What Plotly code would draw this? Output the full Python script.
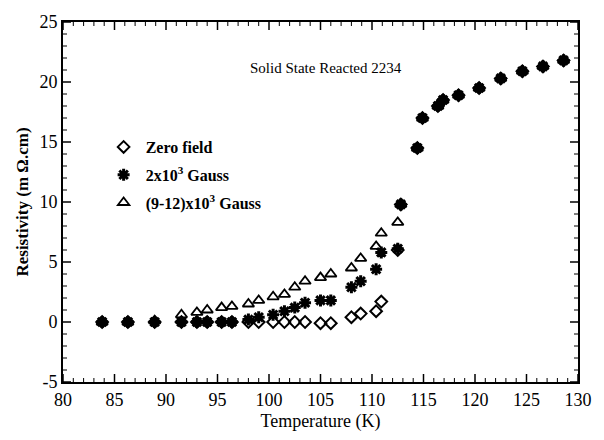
import plotly.graph_objects as go

temperature = [83.8, 86.3, 88.9, 91.5, 93.0, 94.0, 95.4, 96.4, 98.0, 99.0, 100.4, 101.5,
               102.5, 103.5, 105.0, 106.0, 108.0, 108.9, 110.4, 110.9, 112.5, 112.8,
               114.4, 114.9, 116.4, 116.9, 118.4, 120.4, 122.5, 124.6, 126.6, 128.6]

zero_field = [0, 0, 0, 0, 0, 0, 0, 0, 0, 0, 0, 0,
              0, 0, -0.1, -0.1, 0.4, 0.7, 0.9, 1.7, 6.0, 9.8,
              14.5, 17.0, 18.0, 18.5, 18.9, 19.5, 20.3, 20.9, 21.3, 21.8]

gauss_2e3 = [0, 0, 0, 0, 0, 0, 0, 0, 0.2, 0.4, 0.6, 0.9,
             1.2, 1.6, 1.8, 1.8, 2.9, 3.4, 4.4, 5.8, 6.1, 9.8,
             14.5, 17.0, 18.0, 18.5, 18.9, 19.5, 20.3, 20.9, 21.3, 21.8]

gauss_9_12e3 = [0, 0, 0.1, 0.6, 0.8, 1.0, 1.2, 1.3, 1.5, 1.8, 2.1, 2.3,
                2.9, 3.4, 3.7, 4.0, 4.5, 5.3, 6.3, 7.4, 8.3, 9.8,
                14.5, 17.0, 18.0, 18.5, 18.9, 19.5, 20.3, 20.9, 21.3, 21.8]

series_names = ["Zero field", "2x10<sup>3</sup> Gauss", "(9-12)x10<sup>3</sup> Gauss"]
x_range = [80, 130]
y_range = [-5, 25]
x_ticks = [80, 85, 90, 95, 100, 105, 110, 115, 120, 125, 130]
y_ticks = [-5, 0, 5, 10, 15, 20, 25]
x_ticktext = [str(v) for v in x_ticks]
y_ticktext = [str(v) for v in y_ticks]

serif = "Liberation Serif, Times New Roman, serif"

fig = go.Figure()
fig.add_trace(go.Scatter(
    x=temperature, y=zero_field, mode="markers", name=series_names[0],
    marker=dict(symbol="diamond-open", size=9, color="black", line=dict(width=2, color="black")),
    legendgroup="a"))
fig.add_trace(go.Scatter(
    x=temperature, y=gauss_2e3, mode="markers", name=series_names[1],
    marker=dict(symbol="asterisk-open", size=10, color="black", line=dict(width=3, color="black")),
    legendgroup="b"))
fig.add_trace(go.Scatter(
    x=temperature, y=gauss_9_12e3, mode="markers", name=series_names[2],
    marker=dict(symbol="triangle-up-open", size=10, color="black", line=dict(width=1.8, color="black")),
    legendgroup="c"))

# inward-pointing ticks on all four sides (pixel-length shapes anchored to the axes)
MAJOR_LEN, MINOR_LEN = 8, 4
shapes = []
for v in range(x_range[0], x_range[1] + 1):
    ln = MAJOR_LEN if v in x_ticks else MINOR_LEN
    w = 1.5 if v in x_ticks else 1
    for anchor, sign in ((0, 1), (1, -1)):
        shapes.append(dict(type="line", xref="x", yref="paper", ysizemode="pixel", yanchor=anchor,
                           x0=v, x1=v, y0=0, y1=sign * ln, line=dict(color="black", width=w)))
for v in range(y_range[0], y_range[1] + 1):
    ln = MAJOR_LEN if v in y_ticks else MINOR_LEN
    w = 1.5 if v in y_ticks else 1
    for anchor, sign in ((0, 1), (1, -1)):
        shapes.append(dict(type="line", yref="y", xref="paper", xsizemode="pixel", xanchor=anchor,
                           y0=v, y1=v, x0=0, x1=sign * ln, line=dict(color="black", width=w)))

fig.update_layout(
    width=604, height=440,
    margin=dict(l=63, r=15, t=20, b=55),
    plot_bgcolor="white", paper_bgcolor="white",
    xaxis=dict(
        range=x_range, tickmode="array", tickvals=x_ticks, ticktext=x_ticktext,
        showline=True, linecolor="black", linewidth=2, mirror=True,
        ticks="", showgrid=False, zeroline=False,
        tickfont=dict(family=serif, size=18, color="black"),
        title=dict(text="Temperature (K)", font=dict(family=serif, size=18, color="black"), standoff=6),
    ),
    yaxis=dict(
        range=y_range, tickmode="array", tickvals=y_ticks, ticktext=y_ticktext,
        showline=True, linecolor="black", linewidth=2, mirror=True,
        ticks="", showgrid=False, zeroline=False,
        tickfont=dict(family=serif, size=18, color="black"),
        title=dict(text="Resistivity (m \u03a9.cm)",
                   font=dict(family=serif, size=17, color="black", weight="bold"), standoff=6),
    ),
    shapes=shapes,
    legend=dict(x=0.075, y=0.70, xanchor="left", yanchor="top", traceorder="grouped",
                tracegroupgap=4, itemwidth=34, bgcolor="rgba(0,0,0,0)",
                font=dict(family=serif, size=16, color="black", weight="bold")),
    showlegend=True,
)

fig.add_annotation(x=0.51, y=0.90, xref="paper", yref="paper", text="Solid State Reacted 2234",
                   showarrow=False, font=dict(family=serif, size=15, color="black"))

fig.write_html("out.html")
